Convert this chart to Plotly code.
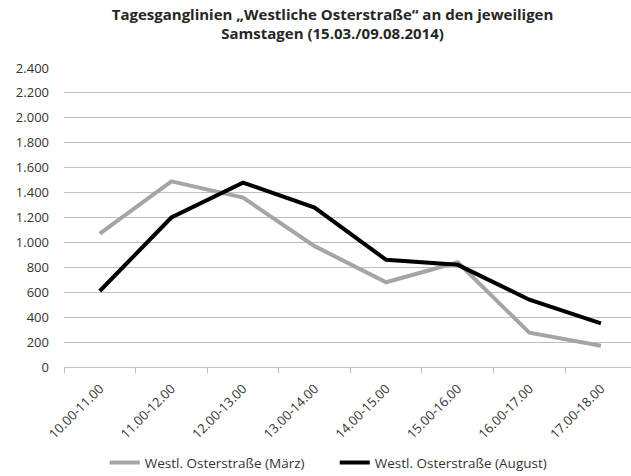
import plotly.graph_objects as go

categories = ["10.00-11.00", "11.00-12.00", "12.00-13.00", "13.00-14.00",
              "14.00-15.00", "15.00-16.00", "16.00-17.00", "17.00-18.00"]
maerz = [1070, 1490, 1360, 970, 680, 840, 275, 170]
august = [610, 1200, 1480, 1280, 860, 820, 540, 350]
y_ticks = [0, 200, 400, 600, 800, 1000, 1200, 1400, 1600, 1800, 2000, 2200, 2400]

font_family = "'Open Sans', sans-serif"
text_color = "#333333"

fig = go.Figure()
fig.add_trace(go.Scatter(x=categories, y=maerz, mode="lines",
                         name="Westl. Osterstraße (März)",
                         line=dict(color="#a5a5a5", width=4)))
fig.add_trace(go.Scatter(x=categories, y=august, mode="lines",
                         name="Westl. Osterstraße (August)",
                         line=dict(color="#000000", width=4)))

fig.update_layout(
    width=631, height=476,
    margin=dict(l=64, r=0, t=68, b=109, autoexpand=False),
    paper_bgcolor="white", plot_bgcolor="white",
    separators=",.",
    font=dict(family=font_family, size=13, color=text_color),
    title=dict(text="<b>Tagesganglinien „Westliche Osterstraße“ an den jeweiligen<br>Samstagen (15.03./09.08.2014)</b>",
               xref="container", x=0.527, xanchor="center",
               yref="container", y=0.958, yanchor="top",
               font=dict(family=font_family, size=15, color="#262626")),
    showlegend=True,
    legend=dict(orientation="h", xref="container", x=0.166, xanchor="left",
                yref="container", y=0.028, yanchor="middle",
                font=dict(size=13.5, color=text_color),
                entrywidth=185, entrywidthmode="pixels",
                traceorder="normal"),
    xaxis=dict(type="category", tickangle=-45, showgrid=False, automargin=False,
               range=[-0.5, 7.42],
               showline=True, linecolor="#bfbfbf", linewidth=1,
               ticks="outside", tickson="boundaries", ticklen=5, tickcolor="#bfbfbf",
               ticklabelstandoff=8,
               tickfont=dict(size=13, color=text_color), fixedrange=True),
    yaxis=dict(range=[0, 2400], tickvals=y_ticks, tickformat=",d", automargin=False,
               showgrid=True, gridcolor="#bfbfbf", gridwidth=1,
               zeroline=False, showline=False, ticks="", ticklen=0,
               ticklabelstandoff=14,
               tickfont=dict(size=13, color=text_color), fixedrange=True),
)

fig.write_html("out.html", config={"displayModeBar": False},
               post_script="document.body.style.margin='0';")
